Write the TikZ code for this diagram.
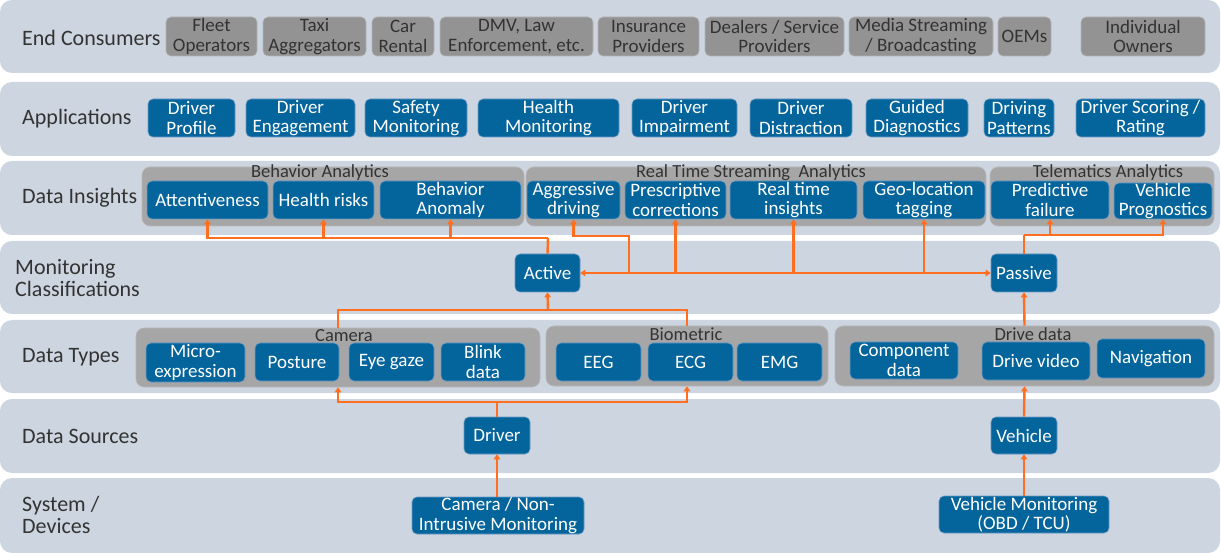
\documentclass[tikz,border=0pt]{standalone}
\usepackage{fontspec}
\setmainfont{Carlito}
\usetikzlibrary{arrows.meta}
\definecolor{bandc}{HTML}{CDD5E0}
\definecolor{grpc}{HTML}{A6A6A6}
\definecolor{ecc}{HTML}{939393}
\definecolor{bluec}{HTML}{04649C}
\definecolor{blueedge}{HTML}{6C9BC4}
\definecolor{orc}{HTML}{FF6F1F}
\definecolor{darkt}{HTML}{333333}
\newcommand\mybox[7]{\node[#1, minimum width={#4-#3}, minimum height={#6-#5}] (#2) at ({(#3+#4)/2},{(#5+#6)/2}) {#7};}
\begin{document}
\begin{tikzpicture}[x=1pt,y=-1pt,
  band/.style={fill=bandc, draw=none, rounded corners=12pt},
  lbl/.style={anchor=west, inner sep=0pt, align=left, text=darkt, font=\fontsize{22}{22}\selectfont},
  grp/.style={fill=grpc, draw=grpc!80!white, line width=0.6pt, rounded corners=8pt, inner sep=0pt},
  gtitle/.style={inner sep=0pt, text=darkt, font=\fontsize{18.5}{18.5}\selectfont},
  bbox/.style={fill=bluec, draw=blueedge, line width=0.6pt, rounded corners=5pt, inner sep=0pt, align=center, text=white, font=\fontsize{19}{19.5}\selectfont},
  ebox/.style={fill=ecc, draw=ecc!70!white, line width=0.6pt, rounded corners=5pt, inner sep=0pt, align=center, text=darkt, font=\fontsize{19}{19.5}\selectfont},
  conn/.style={draw=orc, line width=2.4pt},
  arr/.style={conn, -{Triangle[length=5pt,width=6.5pt]}}
]
\useasboundingbox (0,0) rectangle (1221,553);
% bands
\fill[band] (0,0) rectangle (1220,73);
\fill[band] (0,82) rectangle (1220,156);
\fill[band] (0,161) rectangle (1220,235);
\fill[band] (0,241) rectangle (1220,314);
\fill[band] (0,320) rectangle (1220,393);
\fill[band] (0,399) rectangle (1220,473);
\fill[band] (0,478) rectangle (1220,553);
% row labels
\node[lbl] (l1) at (22,38) {End Consumers};
\node[lbl] (l2) at (22,119) {Applications};
\node[lbl] (l3) at (22,198) {Data Insights};
\node[lbl] (l4) at (15,278) {Monitoring\\Classifications};
\node[lbl] (l5) at (22,357) {Data Types};
\node[lbl] (l6) at (22,436) {Data Sources};
\node[lbl] (l7) at (22,515) {System /\\Devices};
% end consumers
\mybox{ebox}{fleet}{166}{257}{17}{56}{Fleet\\Operators}
\mybox{ebox}{taxi}{263}{366}{17}{56}{Taxi\\Aggregators}
\mybox{ebox}{car}{372}{434}{17}{56}{Car\\Rental}
\mybox{ebox}{dmv}{440}{593}{17}{56}{DMV, Law\\Enforcement, etc.}
\mybox{ebox}{ins}{598}{699}{17}{56}{Insurance\\Providers}
\mybox{ebox}{deal}{705}{844}{17}{56}{Dealers / Service\\Providers}
\mybox{ebox}{media}{849}{993}{17}{56}{Media Streaming\\/ Broadcasting}
\mybox{ebox}{oem}{998}{1051}{17}{56}{OEMs}
\mybox{ebox}{indiv}{1081}{1205}{17}{56}{Individual\\Owners}
% applications
\mybox{bbox}{a1}{148}{235}{99}{137}{Driver\\Profile}
\mybox{bbox}{a2}{246}{355}{99}{137}{Driver\\Engagement}
\mybox{bbox}{a3}{365}{467}{99}{137}{Safety\\Monitoring}
\mybox{bbox}{a4}{478}{619}{99}{137}{Health\\Monitoring}
\mybox{bbox}{a5}{632}{737}{99}{137}{Driver\\Impairment}
\mybox{bbox}{a6}{750}{852}{99}{137}{Driver\\Distraction}
\mybox{bbox}{a7}{866}{968}{99}{137}{Guided\\Diagnostics}
\mybox{bbox}{a8}{984}{1054}{99}{137}{Driving\\Patterns}
\mybox{bbox}{a9}{1076}{1205}{99}{137}{Driver Scoring /\\Rating}
% data insights groups
\mybox{grp}{ba}{142}{524}{167}{226}{}
\mybox{grp}{rt}{526}{986}{167}{226}{}
\mybox{grp}{ta}{990}{1214}{167}{226}{}
\node[gtitle] (bat) at (320,173) {Behavior Analytics};
\node[gtitle] (rtt) at (751,173) {Real Time Streaming\ \ Analytics};
\node[gtitle] (tat) at (1108,173) {Telematics Analytics};
\mybox{bbox}{att}{147}{268}{181}{219}{Attentiveness}
\mybox{bbox}{hr}{273}{374}{181}{219}{Health risks}
\mybox{bbox}{ban}{380}{521}{181}{219}{Behavior\\Anomaly}
\mybox{bbox}{agg}{527}{620}{181}{219}{Aggressive\\driving}
\mybox{bbox}{pres}{625}{726}{181}{219}{Prescriptive\\corrections}
\mybox{bbox}{rti}{730}{857}{181}{219}{Real time\\insights}
\mybox{bbox}{geo}{863}{985}{181}{219}{Geo-location\\tagging}
\mybox{bbox}{pf}{991}{1109}{181}{219}{Predictive\\failure}
\mybox{bbox}{vp}{1114}{1212}{183}{219}{Vehicle\\Prognostics}
% monitoring
\mybox{bbox}{act}{515}{580}{254}{292}{Active}
\mybox{bbox}{pas}{991}{1057}{254}{292}{Passive}
% data types groups
\mybox{grp}{cam}{136}{540}{328}{387}{}
\mybox{grp}{bio}{546}{828}{326}{386}{}
\mybox{grp}{drv}{835}{1214}{326}{386}{}
\node[gtitle] (camt) at (344,336) {Camera};
\node[gtitle] (biot) at (686,334) {Biometric};
\node[gtitle] (drvt) at (1033,334) {Drive data};
\mybox{bbox}{micro}{146}{245}{343}{382}{Micro-\\expression}
\mybox{bbox}{post}{255}{339}{343}{381}{Posture}
\mybox{bbox}{eye}{349}{434}{343}{381}{Eye gaze}
\mybox{bbox}{blink}{441}{525}{343}{381}{Blink\\data}
\mybox{bbox}{eeg}{556}{641}{343}{381}{EEG}
\mybox{bbox}{ecg}{648}{733}{343}{381}{ECG}
\mybox{bbox}{emg}{737}{822}{343}{381}{EMG}
\mybox{bbox}{comp}{850}{958}{342}{379}{Component\\data}
\mybox{bbox}{dvid}{982}{1090}{342}{380}{Drive video}
\mybox{bbox}{nav}{1097}{1205}{339}{378}{Navigation}
% data sources
\mybox{bbox}{drvr}{464}{530}{417}{454}{Driver}
\mybox{bbox}{veh}{991}{1057}{417}{454}{Vehicle}
% systems
\mybox{bbox}{camn}{412}{584}{497}{534}{Camera / Non-\\Intrusive Monitoring}
\mybox{bbox}{vm}{939}{1109}{496}{533}{Vehicle Monitoring\\(OBD / TCU)}
% connectors
\coordinate (ja) at (548,238);
\draw[conn] (act.north) -- (ja);
\draw[arr] (ja) -| (att.south);
\draw[arr] (ja) -| (hr.south);
\draw[arr] (ja) -| (ban.south);
\coordinate (jr) at (629,273);
\coordinate (jr2) at (629,236);
\draw[arr] (jr) -- (act.east);
\draw[arr] (jr) -- (pas.west);
\draw[arr] (jr) -- (jr2) -| (agg.south);
\draw[arr] (pres.south |- jr) -- (pres.south);
\draw[arr] (rti.south |- jr) -- (rti.south);
\draw[arr] (geo.south |- jr) -- (geo.south);
\coordinate (jp) at (1024,235);
\draw[conn] (pas.north) -- (jp);
\draw[arr] (jp) -| (pf.south);
\draw[arr] (jp) -| (vp.south);
\coordinate (jb) at (548,310);
\draw[conn] (cam.north) |- (jb);
\draw[conn] (bio.north) |- (jb);
\draw[arr] (jb) -- (act.south);
\draw[arr] (drv.north) -- (pas.south);
\coordinate (jd) at (497,402);
\draw[conn] (drvr.north) -- (jd);
\draw[arr] (jd) -| (cam.south);
\draw[arr] (jd) -| (bio.south);
\draw[arr] (veh.north) -- (drv.south);
\draw[arr] (camn.north -| drvr.south) -- (drvr.south);
\draw[arr] (vm.north) -- (veh.south);
\end{tikzpicture}
\end{document}
